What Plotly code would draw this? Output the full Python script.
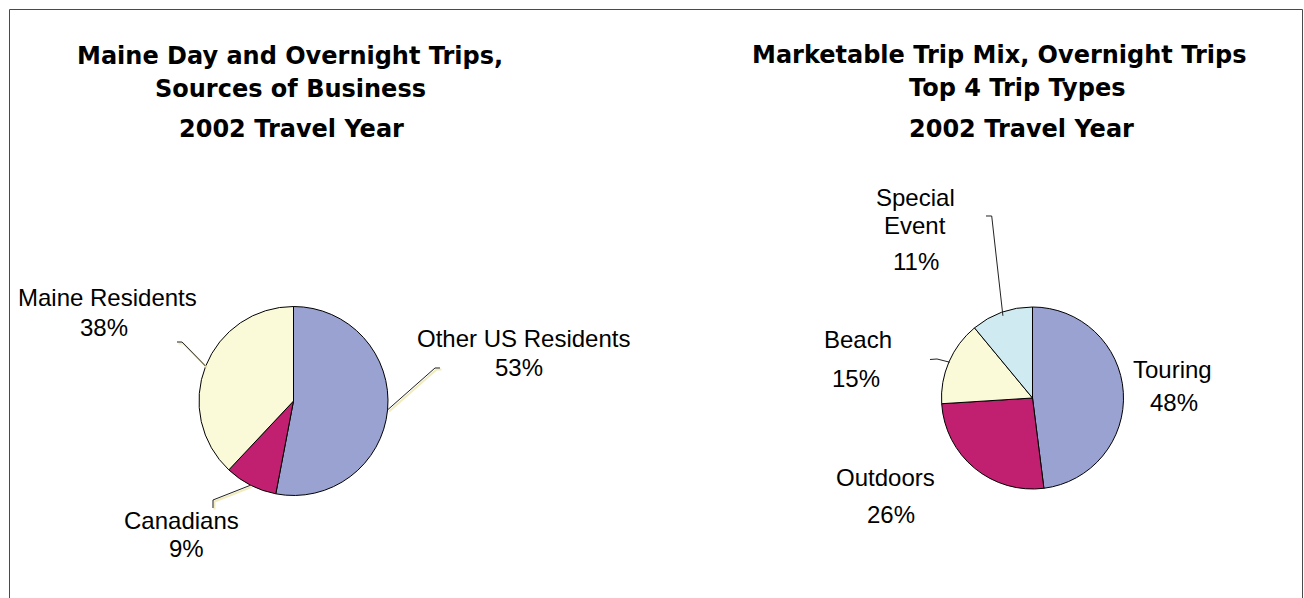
import math
import plotly.graph_objects as go

W, H = 1304, 598

# ---- data ----
src_names = ["Other US Residents", "Canadians", "Maine Residents"]
src_values = [53, 9, 38]

mix_names = ["Touring", "Outdoors", "Beach", "Special Event"]
mix_values = [48, 26, 15, 11]

colors_src = ["#99a2d1", "#c0206f", "#fafad9"]
colors_mix = ["#99a2d1", "#c0206f", "#fafad9", "#cfeaf0"]

# ---- geometry (pixels) ----
PIE_L = dict(cx=293.5, cy=401.0, r=94.5)
PIE_R = dict(cx=1032.5, cy=398.0, r=91.0)


def px(x):
    return x / W


def py(y):
    return 1 - y / H


def domain(p):
    return dict(x=[px(p["cx"] - p["r"]), px(p["cx"] + p["r"])],
                y=[py(p["cy"] + p["r"]), py(p["cy"] - p["r"])])


def rim_point(p, values, i, frac=1.0):
    """Point on the pie edge at the middle of slice i (clockwise from 12 o'clock)."""
    total = sum(values)
    start = sum(values[:i])
    mid = (start + values[i] / 2) / total * 2 * math.pi
    return (p["cx"] + frac * p["r"] * math.sin(mid),
            p["cy"] - frac * p["r"] * math.cos(mid))


fig = go.Figure()
for names, values, cols, p in [(src_names, src_values, colors_src, PIE_L),
                               (mix_names, mix_values, colors_mix, PIE_R)]:
    fig.add_trace(go.Pie(
        labels=names, values=values, sort=False, direction="clockwise",
        rotation=0, textinfo="none", hoverinfo="label+percent",
        marker=dict(colors=cols, line=dict(color="#000000", width=1)),
        domain=domain(p), showlegend=False,
    ))

shapes = []
# outer frame
shapes.append(dict(type="rect", xref="paper", yref="paper",
                   x0=px(9.5), x1=px(1302.5), y0=py(640), y1=py(9.5),
                   line=dict(color="#4a4a4a", width=1), fillcolor="rgba(0,0,0,0)",
                   layer="below"))


def path(points):
    return "M " + " L ".join(f"{px(x):.5f},{py(y):.5f}" for x, y in points)


# leader lines: (pie, values, slice index, elbow, tick end, rim fraction, shadow)
leaders = [
    (PIE_L, src_values, 2, (182, 342), (177, 342), 1.0, True),
    (PIE_L, src_values, 0, (435, 368), (440, 368), 1.0, True),
    (PIE_L, src_values, 1, (213, 500), (213, 508), 1.0, True),
    (PIE_R, mix_values, 3, (991.7, 216), (986, 216), 0.96, False),
    (PIE_R, mix_values, 2, (937, 359), (930, 359.5), 0.99, False),
]
for p, vals, i, elbow, end, frac, shadow in leaders:
    start = rim_point(p, vals, i, frac)
    pts = [start, elbow, end]
    if shadow:
        sh = [(x + 1.5, y + 1.5) for x, y in pts]
        shapes.append(dict(type="path", xref="paper", yref="paper", path=path(sh),
                           line=dict(color="#f1ecbd", width=2)))
    shapes.append(dict(type="path", xref="paper", yref="paper", path=path(pts),
                       line=dict(color="#222222", width=1)))

annotations = []
TITLE_FONT = dict(family="DejaVu Sans", size=24, color="#000000")
LABEL_FONT = dict(family="Liberation Sans, Arial", size=24, color="#000000")


def text(x, y, s, font):
    annotations.append(dict(x=px(x), y=py(y), xref="paper", yref="paper",
                            text=s, showarrow=False, font=font,
                            xanchor="center", yanchor="middle"))


# chart titles
titles = [
    ("<b>Maine Day and Overnight Trips,</b>", 290, 56),
    ("<b>Sources of Business</b>", 290.5, 89),
    ("<b>2002 Travel Year</b>", 291, 129),
    ("<b>Marketable Trip Mix, Overnight Trips</b>", 998.5, 55),
    ("<b>Top 4 Trip Types</b>", 1017, 88),
    ("<b>2002 Travel Year</b>", 1021, 129),
]
for s, x, y in titles:
    text(x, y, s, TITLE_FONT)

# slice labels: name line(s) position, percentage position
src_label_pos = [
    [(523, 338)], (519, 367),
    [(181, 520)], (186, 548),
    [(108, 297)], (104, 327),
]
mix_label_pos = [
    [(1172, 369)], (1174, 402),
    [(885, 477)], (891, 514),
    [(858, 339)], (856, 378),
    [(915, 197), (915, 226)], (916, 261),
]
for names, values, pos in [(src_names, src_values, src_label_pos),
                           (mix_names, mix_values, mix_label_pos)]:
    for k, (name, v) in enumerate(zip(names, values)):
        name_pos, pct_pos = pos[2 * k], pos[2 * k + 1]
        parts = name.split(" ") if len(name_pos) > 1 else [name]
        for part, (x, y) in zip(parts, name_pos):
            text(x, y, part, LABEL_FONT)
        text(pct_pos[0], pct_pos[1], f"{v}%", LABEL_FONT)

fig.update_layout(
    width=W, height=H, margin=dict(l=0, r=0, t=0, b=0),
    paper_bgcolor="#ffffff", plot_bgcolor="#ffffff",
    shapes=shapes, annotations=annotations,
)

fig.write_html("out.html", config={"displayModeBar": False})
